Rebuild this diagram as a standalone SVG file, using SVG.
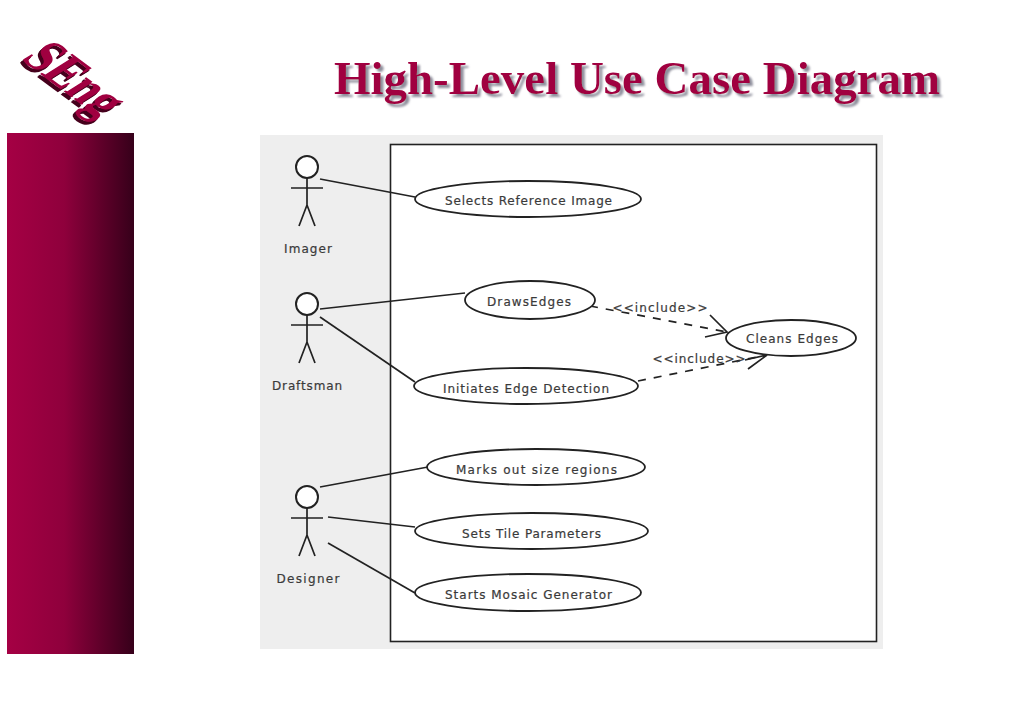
<svg xmlns="http://www.w3.org/2000/svg" width="1024" height="709" viewBox="0 0 1024 709">
<style>
.uc{fill:#fff;stroke:#222;stroke-width:1.8}
.ln{fill:none;stroke:#222;stroke-width:1.7}
.da{fill:none;stroke:#222;stroke-width:1.7;stroke-dasharray:8 8}
.t{font-family:"DejaVu Sans",sans-serif;font-size:12px;fill:#3a3a3a;stroke:#3a3a3a;stroke-width:.2;text-anchor:middle}
.act{fill:none;stroke:#222;stroke-width:1.7}
.title{font-family:"Liberation Serif",serif;font-weight:bold;font-size:46px}
.logo{font-family:"Liberation Serif",serif;font-weight:bold;font-size:50px}
</style>
<defs>
<linearGradient id="bar" x1="0" x2="1" y1="0" y2="0">
<stop offset="0" stop-color="#a50044"/><stop offset="0.45" stop-color="#8f003c"/><stop offset="0.75" stop-color="#5e0029"/><stop offset="1" stop-color="#36001a"/>
</linearGradient>
<filter id="ts" x="-5%" y="-20%" width="110%" height="150%">
<feDropShadow dx="3" dy="3" stdDeviation="1.2" flood-color="#8f8f9c"/>
</filter>
<filter id="ls" x="-20%" y="-20%" width="140%" height="140%" filterUnits="objectBoundingBox">
<feOffset in="SourceAlpha" dx="-2" dy="1.500" result="a"/>
<feOffset in="SourceAlpha" dx="-3.500" dy="3" result="b"/>
<feMerge result="m"><feMergeNode in="a"/><feMergeNode in="b"/></feMerge>
<feFlood flood-color="#45001c"/><feComposite in2="m" operator="in" result="sh"/>
<feMerge><feMergeNode in="sh"/><feMergeNode in="SourceGraphic"/></feMerge>
</filter>
<g id="actor" class="act">
<circle cx="0" cy="0" r="11" fill="#fff" stroke-width="2"/>
<path d="M0 11V38M-16 21H16M0 38L-8 59M0 38L8 59"/>
</g>
</defs>
<rect width="1024" height="709" fill="#fff"/>
<rect id="side-bar" x="7" y="133" width="127" height="521" fill="url(#bar)"/>
<g id="logo" filter="url(#ls)">
<text class="logo" transform="matrix(.7 .52 -.98 .62 20 59)" fill="#a00040">SEng</text>
</g>
<g id="title">
<text class="title" x="334" y="94" fill="#a00040" textLength="606" lengthAdjust="spacingAndGlyphs" filter="url(#ts)">High-Level Use Case Diagram</text>
</g>
<rect id="background" x="260" y="135" width="623" height="514" fill="#eeeeee"/>
<rect id="system" x="390.500" y="144.500" width="486" height="497" fill="#fff" stroke="#222" stroke-width="1.6"/>
<g id="connectors">
<path class="ln" d="M320 179L415 197"/>
<path class="ln" d="M320 309L465 293"/>
<path class="ln" d="M320 317L415 382"/>
<path class="ln" d="M320 487L428 467"/>
<path class="ln" d="M328 517L415 527"/>
<path class="ln" d="M328 543L415 593"/>
<path class="da" d="M590 306L727 332"/>
<path class="ln" d="M710 315L727 332L705 337"/>
<path class="da" d="M638 381L767 355"/>
<path class="ln" d="M748 369L767 355L745 360"/>
</g>
<g id="edge-labels">
<text class="t" x="660" y="312" textLength="95">&lt;&lt;include&gt;&gt;</text>
<text class="t" x="699" y="363" textLength="93">&lt;&lt;include&gt;&gt;</text>
</g>
<g id="imager"><use href="#actor" x="307" y="167"/><text class="t" x="308" y="253" textLength="48">Imager</text></g>
<g id="draftsman"><use href="#actor" x="307" y="304"/><text class="t" x="307" y="390" textLength="70">Draftsman</text></g>
<g id="designer"><use href="#actor" x="307" y="497"/><text class="t" x="308" y="583" textLength="63">Designer</text></g>
<g id="selects"><ellipse class="uc" cx="528" cy="199" rx="113" ry="18"/><text class="t" x="528.500" y="205" textLength="167">Selects Reference Image</text></g>
<g id="draws"><ellipse class="uc" cx="530" cy="300" rx="65" ry="19"/><text class="t" x="529" y="306" textLength="84">DrawsEdges</text></g>
<g id="initiates"><ellipse class="uc" cx="526" cy="386" rx="112" ry="18"/><text class="t" x="526" y="393" textLength="166">Initiates Edge Detection</text></g>
<g id="cleans"><ellipse class="uc" cx="791" cy="338" rx="65" ry="18"/><text class="t" x="792" y="343" textLength="92">Cleans Edges</text></g>
<g id="marks"><ellipse class="uc" cx="536" cy="467" rx="109" ry="18"/><text class="t" x="536.500" y="474" textLength="161">Marks out size regions</text></g>
<g id="sets"><ellipse class="uc" cx="531.500" cy="531" rx="116.500" ry="18"/><text class="t" x="531.500" y="538" textLength="139">Sets Tile Parameters</text></g>
<g id="starts"><ellipse class="uc" cx="528" cy="592.500" rx="113" ry="18.500"/><text class="t" x="528.500" y="599" textLength="167">Starts Mosaic Generator</text></g>
</svg>
